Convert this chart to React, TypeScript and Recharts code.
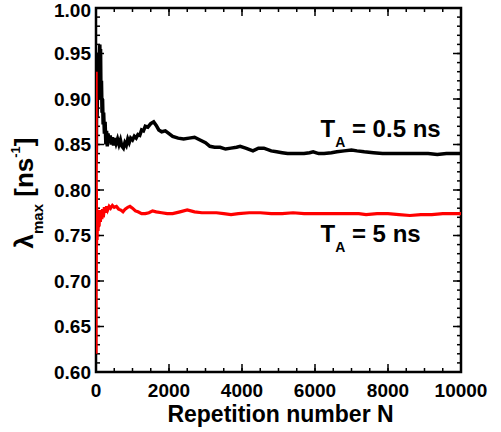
import React from 'react';
import { LineChart, Line, XAxis, YAxis, Label, ReferenceDot, ReferenceArea, ReferenceLine } from 'recharts';

// Black series: T_A = 0.5 ns
const blackN = [1, 5, 10, 20, 30, 45, 60, 75, 90, 105, 115, 125, 135, 150, 165, 180, 195, 210, 230, 250, 270, 290, 310, 330, 360, 390, 420, 450, 480, 510, 550, 590, 630, 670, 710, 750, 790, 830, 870, 910, 950, 1000, 1050, 1100, 1150, 1200, 1250, 1300, 1350, 1420, 1500, 1580, 1650, 1720, 1800, 1900, 2000, 2100, 2250, 2400, 2550, 2700, 2850, 3000, 3120, 3250, 3400, 3550, 3700, 3850, 3950, 4100, 4300, 4450, 4600, 4800, 4950, 5100, 5250, 5500, 5700, 5850, 5950, 6100, 6250, 6450, 6600, 6800, 7000, 7150, 7350, 7600, 7850, 8200, 8500, 8800, 9100, 9350, 9600, 9800, 10000];
const blackV = [0.83, 0.9, 0.84, 0.93, 0.88, 0.92, 0.95, 0.9, 0.945, 0.96, 0.93, 0.955, 0.91, 0.92, 0.885, 0.9, 0.872, 0.885, 0.862, 0.875, 0.85, 0.865, 0.848, 0.862, 0.852, 0.86, 0.85, 0.858, 0.849, 0.857, 0.851, 0.856, 0.85, 0.855, 0.848, 0.846, 0.852, 0.849, 0.856, 0.852, 0.857, 0.855, 0.859, 0.857, 0.861, 0.86, 0.866, 0.865, 0.87, 0.869, 0.873, 0.875, 0.871, 0.866, 0.864, 0.865, 0.862, 0.859, 0.857, 0.856, 0.857, 0.858, 0.855, 0.852, 0.848, 0.847, 0.847, 0.845, 0.846, 0.847, 0.848, 0.846, 0.843, 0.846, 0.846, 0.843, 0.842, 0.841, 0.84, 0.84, 0.84, 0.841, 0.842, 0.84, 0.84, 0.841, 0.842, 0.843, 0.844, 0.843, 0.842, 0.841, 0.84, 0.84, 0.84, 0.84, 0.84, 0.839, 0.84, 0.84, 0.84];

// Red series: T_A = 5 ns
const redN = [1, 3, 6, 10, 15, 20, 30, 40, 55, 70, 85, 100, 120, 140, 160, 180, 200, 230, 260, 290, 320, 360, 400, 450, 500, 560, 620, 680, 740, 800, 870, 930, 1000, 1080, 1150, 1250, 1350, 1450, 1550, 1650, 1800, 1950, 2100, 2300, 2500, 2700, 2900, 3100, 3300, 3500, 3700, 3900, 4200, 4500, 4800, 5100, 5400, 5700, 6000, 6300, 6600, 6900, 7200, 7400, 7700, 8000, 8300, 8600, 8900, 9200, 9500, 9800, 10000];
const redV = [0.62, 0.93, 0.7, 0.8, 0.74, 0.78, 0.745, 0.775, 0.755, 0.772, 0.76, 0.778, 0.765, 0.777, 0.768, 0.779, 0.77, 0.781, 0.775, 0.782, 0.778, 0.782, 0.78, 0.783, 0.781, 0.782, 0.779, 0.778, 0.776, 0.779, 0.781, 0.782, 0.78, 0.777, 0.776, 0.774, 0.774, 0.775, 0.777, 0.776, 0.775, 0.774, 0.774, 0.776, 0.778, 0.776, 0.775, 0.775, 0.775, 0.774, 0.773, 0.774, 0.775, 0.775, 0.774, 0.774, 0.775, 0.774, 0.774, 0.774, 0.774, 0.774, 0.774, 0.773, 0.774, 0.774, 0.773, 0.772, 0.773, 0.773, 0.774, 0.774, 0.774];

const xMajorTicks = [0, 2000, 4000, 6000, 8000, 10000];
const xMinorTicks = Array.from({ length: 21 }, (_, i) => i * 500);
const yMajorTicks = [0.6, 0.65, 0.7, 0.75, 0.8, 0.85, 0.9, 0.95, 1.0];
const yMinorTicks = Array.from({ length: 41 }, (_, i) => +(0.6 + i * 0.01).toFixed(2));

const annotations = [
  { n: 6150, v: 0.858, main: 'T', sub: 'A', rest: ' = 0.5 ns' },
  { n: 6150, v: 0.743, main: 'T', sub: 'A', rest: ' = 5 ns' },
];

const xLabelText = 'Repetition number N';

const X_DOMAIN: [number, number] = [0, 10000];
const Y_DOMAIN: [number, number] = [0.6, 1.0];

const blackData = blackN.map((n, i) => ({ n, v: blackV[i] }));
const redData = redN.map((n, i) => ({ n, v: redV[i] }));

// plot area size in px (for converting tick lengths into data units)
const PLOT_W = 365;
const PLOT_H = 364;
const xUnitsPerPx = (X_DOMAIN[1] - X_DOMAIN[0]) / PLOT_W;
const yUnitsPerPx = (Y_DOMAIN[1] - Y_DOMAIN[0]) / PLOT_H;
const MAJOR_PX = 8;
const MINOR_PX = 4;

const FONT = '"Liberation Sans", Arial, Helvetica, sans-serif';
const tickFont = { fill: '#000', fontSize: 19, fontWeight: 'bold', fontFamily: FONT };

const YTick = (props: any) => {
  const { x, y, payload } = props;
  const v = payload.value;
  const dy = v >= 0.999 ? 9 : 6.5;
  return (
    <text x={x} y={y} dy={dy} textAnchor="end" fill="#000" fontSize={19} fontWeight="bold" fontFamily={FONT}>
      {Number(v).toFixed(2)}
    </text>
  );
};

const XLabel = (props: any) => {
  const vb = props.viewBox || {};
  return (
    <text x={vb.x + vb.width / 2 + 2} y={vb.y + 50} textAnchor="middle" fill="#000" fontSize={23} fontWeight="bold" fontFamily={FONT}>
      {xLabelText}
    </text>
  );
};

const YLabel = () => {
  const cx = 33;
  const cy = 193;
  return (
    <text transform={`rotate(-90 ${cx} ${cy})`} x={cx} y={cy} textAnchor="middle" fill="#000" fontSize={26} fontWeight="bold" fontFamily={FONT}>
      λ
      <tspan dy={10} fontSize={15}>max</tspan>
      <tspan dy={-10}> [ns</tspan>
      <tspan dy={-13} fontSize={13}>-1</tspan>
      <tspan dy={13}>]</tspan>
    </text>
  );
};

const makeAnno = (a: any) => (props: any) => {
  const vb = props.viewBox || {};
  return (
    <text x={vb.x} y={vb.y} fill="#000" fontSize={24} fontWeight="bold" fontFamily={FONT}>
      {a.main}
      <tspan dy={10} fontSize={14}>{a.sub}</tspan>
      <tspan dy={-10}>{a.rest}</tspan>
    </text>
  );
};

const tickStroke = { stroke: '#000', strokeWidth: 1.5 };

function tickSegments() {
  const out: any[] = [];
  const xt = (ticks: number[], len: number, key: string) =>
    ticks.forEach((t) => {
      const dy = len * yUnitsPerPx;
      out.push(<ReferenceLine key={`${key}b${t}`} xAxisId="b" yAxisId="l" ifOverflow="visible" {...tickStroke}
        segment={[{ x: t, y: Y_DOMAIN[0] }, { x: t, y: Y_DOMAIN[0] + dy }]} />);
      out.push(<ReferenceLine key={`${key}t${t}`} xAxisId="b" yAxisId="l" ifOverflow="visible" {...tickStroke}
        segment={[{ x: t, y: Y_DOMAIN[1] }, { x: t, y: Y_DOMAIN[1] - dy }]} />);
    });
  const yt = (ticks: number[], len: number, key: string) =>
    ticks.forEach((t) => {
      const dx = len * xUnitsPerPx;
      out.push(<ReferenceLine key={`${key}l${t}`} xAxisId="b" yAxisId="l" ifOverflow="visible" {...tickStroke}
        segment={[{ x: X_DOMAIN[0], y: t }, { x: X_DOMAIN[0] + dx, y: t }]} />);
      out.push(<ReferenceLine key={`${key}r${t}`} xAxisId="b" yAxisId="l" ifOverflow="visible" {...tickStroke}
        segment={[{ x: X_DOMAIN[1], y: t }, { x: X_DOMAIN[1] - dx, y: t }]} />);
    });
  xt(xMajorTicks, MAJOR_PX, 'xM');
  xt(xMinorTicks, MINOR_PX, 'xm');
  yt(yMajorTicks, MAJOR_PX, 'yM');
  yt(yMinorTicks, MINOR_PX, 'ym');
  return out;
}

export default function App() {
  return (
    <div style={{ position: 'absolute', left: 0, top: 0, width: 501, height: 432, background: '#fff' }}>
      <LineChart width={501} height={432} margin={{ top: 8, right: 40, bottom: 30, left: 36 }}>
        <XAxis xAxisId="b" type="number" dataKey="n" domain={X_DOMAIN} ticks={xMajorTicks} allowDataOverflow interval={0}
          tickLine={false} tickSize={0} tickMargin={12} axisLine={false} height={30} tick={tickFont}>
          <Label content={XLabel} />
        </XAxis>
        <YAxis yAxisId="l" type="number" domain={Y_DOMAIN} ticks={yMajorTicks} allowDataOverflow interval={0}
          tickLine={false} tickSize={0} tickMargin={5} axisLine={false} width={60} tick={YTick}>
          <Label content={YLabel} />
        </YAxis>

        {tickSegments()}

        <Line xAxisId="b" yAxisId="l" data={blackData} dataKey="v" type="linear" stroke="#000" strokeWidth={3.5} strokeLinejoin="miter" dot={false} isAnimationActive={false} />
        <Line xAxisId="b" yAxisId="l" data={redData} dataKey="v" type="linear" stroke="#ff0000" strokeWidth={3.2} strokeLinejoin="miter" dot={false} isAnimationActive={false} />

        <ReferenceArea xAxisId="b" yAxisId="l" x1={X_DOMAIN[0]} x2={X_DOMAIN[1]} y1={Y_DOMAIN[0]} y2={Y_DOMAIN[1]}
          ifOverflow="visible" fill="none" fillOpacity={0} stroke="#000" strokeWidth={2.5} />

        {annotations.map((a, i) => (
          <ReferenceDot key={i} xAxisId="b" yAxisId="l" x={a.n} y={a.v} r={0} fill="none" stroke="none">
            <Label content={makeAnno(a)} />
          </ReferenceDot>
        ))}
      </LineChart>
    </div>
  );
}
